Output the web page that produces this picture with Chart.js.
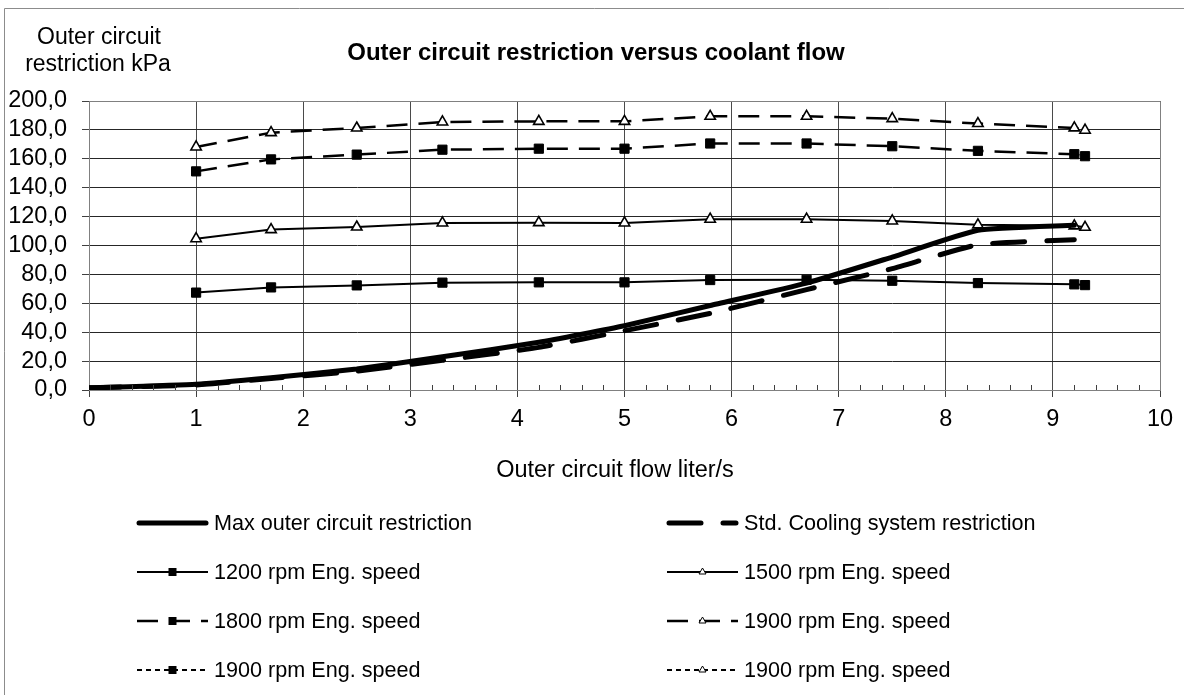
<!DOCTYPE html>
<html>
<head>
<meta charset="utf-8">
<script src="https://cdn.jsdelivr.net/npm/chart.js@4/dist/chart.umd.min.js"></script>
<style>
  html, body { margin: 0; padding: 0; background: #fff; }
  canvas { display: block; }
</style>
</head>
<body>
<canvas id="c" width="1184" height="695"></canvas>
<script>
// ---- data ----
const chartTitle = 'Outer circuit restriction versus coolant flow';
const yTitleLines = ['Outer circuit', 'restriction kPa'];
const xTitle = 'Outer circuit flow liter/s';

const curveFlow = [0, 1, 1.7, 2.5, 3.3, 4.2, 5, 5.8, 6.7, 7.5, 8.3, 9.2];
const maxRestriction = [1.5, 4, 8.5, 14.5, 23, 33, 44.5, 58.5, 74, 92, 110.5, 114];
const stdRestriction = [1.5, 3.5, 8, 13, 20.5, 29.5, 41, 53, 69.5, 84, 100.5, 104];

const rpmFlow = [1, 1.7, 2.5, 3.3, 4.2, 5, 5.8, 6.7, 7.5, 8.3, 9.2, 9.3];
const rpm1200 = [67.4, 71, 72.4, 74.3, 74.5, 74.5, 76.1, 76.3, 75.6, 74, 73.1, 72.6];
const rpm1500 = [104.7, 111, 112.8, 115.6, 115.8, 115.6, 118.2, 118.2, 117, 114.3, 113.6, 112.6];
const rpm1800 = [151.3, 159.6, 162.9, 166.3, 167, 167, 170.6, 170.6, 168.7, 165.5, 163.2, 161.8];
const rpm1900 = [168.2, 178.1, 181.3, 185.5, 185.9, 185.9, 189.4, 189.4, 187.8, 184.4, 181.4, 179.8];
const rpm1900sqShort = [];
const rpm1900triShort = [];

const seriesLabels = [
  'Max outer circuit restriction',
  'Std. Cooling system restriction',
  '1200 rpm Eng. speed',
  '1500 rpm Eng. speed',
  '1800 rpm Eng. speed',
  '1900 rpm Eng. speed',
  '1900 rpm Eng. speed',
  '1900 rpm Eng. speed'
];

const xMin = 0, xMax = 10, xStep = 1;
const yMin = 0, yMax = 200, yStep = 20;

function pts(xs, ys) { return ys.map((y, i) => ({ x: xs[i], y: y })); }

const FONT = '"Liberation Sans", Arial, sans-serif';

const datasets = [
  { label: seriesLabels[0], data: pts(curveFlow, maxRestriction), borderColor: '#000', borderWidth: 5,
    pointRadius: 0, tension: 0.15, borderCapStyle: 'round', borderJoinStyle: 'round' },
  { label: seriesLabels[1], data: pts(curveFlow, stdRestriction), borderColor: '#000', borderWidth: 5,
    borderDash: [32, 22], borderCapStyle: 'round', pointRadius: 0, tension: 0.15 },
  { label: seriesLabels[2], data: pts(rpmFlow, rpm1200), borderColor: '#000', borderWidth: 2,
    pointStyle: 'rect', pointRadius: 6.5, pointBackgroundColor: '#000', pointBorderColor: '#000', pointBorderWidth: 1 },
  { label: seriesLabels[3], data: pts(rpmFlow, rpm1500), borderColor: '#000', borderWidth: 2,
    pointStyle: 'triangle', pointRadius: 6, pointBackgroundColor: '#fff', pointBorderColor: '#000', pointBorderWidth: 1.6 },
  { label: seriesLabels[4], data: pts(rpmFlow, rpm1800), borderColor: '#000', borderWidth: 2.5, borderDash: [21, 11],
    pointStyle: 'rect', pointRadius: 6.5, pointBackgroundColor: '#000', pointBorderColor: '#000', pointBorderWidth: 1 },
  { label: seriesLabels[5], data: pts(rpmFlow, rpm1900), borderColor: '#000', borderWidth: 2.5, borderDash: [21, 11],
    pointStyle: 'triangle', pointRadius: 6, pointBackgroundColor: '#fff', pointBorderColor: '#000', pointBorderWidth: 1.6 },
  { label: seriesLabels[6], data: pts(rpmFlow, rpm1900sqShort), borderColor: '#000', borderWidth: 2, borderDash: [5, 4],
    pointStyle: 'rect', pointRadius: 6.5, pointBackgroundColor: '#000', pointBorderColor: '#000', pointBorderWidth: 1 },
  { label: seriesLabels[7], data: pts(rpmFlow, rpm1900triShort), borderColor: '#000', borderWidth: 2, borderDash: [5, 4],
    pointStyle: 'triangle', pointRadius: 6, pointBackgroundColor: '#fff', pointBorderColor: '#000', pointBorderWidth: 1.6 }
];

const decor = {
  id: 'decor',
  beforeDraw(chart) {
    const ctx = chart.ctx;
    ctx.save();
    ctx.fillStyle = '#fff';
    ctx.fillRect(0, 0, chart.width, chart.height);
    ctx.strokeStyle = '#8c8c8c';
    ctx.lineWidth = 1;
    ctx.beginPath();
    ctx.moveTo(4.5, chart.height);
    ctx.lineTo(4.5, 8.5);
    ctx.lineTo(chart.width, 8.5);
    ctx.stroke();
    ctx.restore();
  },
  afterDraw(chart) {
    const ctx = chart.ctx;
    const a = chart.chartArea;
    const xs = chart.scales.x;
    ctx.save();
    ctx.strokeStyle = '#808080';
    ctx.lineWidth = 1;
    ctx.beginPath();
    ctx.moveTo(Math.round(a.left) + 0.5, Math.round(a.top) + 0.5);
    ctx.lineTo(Math.round(a.right) + 0.5, Math.round(a.top) + 0.5);
    ctx.lineTo(Math.round(a.right) + 0.5, Math.round(a.bottom) + 0.5);
    ctx.stroke();
    ctx.strokeStyle = '#404040';
    ctx.beginPath();
    for (let i = 1; i < (xMax - xMin) * 5; i++) {
      if (i % 5 === 0) continue;
      const px = Math.round(xs.getPixelForValue(xMin + i / 5)) + 0.5;
      ctx.moveTo(px, a.bottom);
      ctx.lineTo(px, a.bottom - 5);
    }
    ctx.stroke();

    ctx.fillStyle = '#000';
    ctx.textAlign = 'center';
    ctx.textBaseline = 'alphabetic';
    ctx.font = 'bold 24px ' + FONT;
    ctx.fillText(chartTitle, 596, 60);
    ctx.font = '23px ' + FONT;
    ctx.fillText(yTitleLines[0], 99, 44);
    ctx.fillText(yTitleLines[1], 98, 71);
    ctx.font = '23.5px ' + FONT;
    ctx.fillText(xTitle, 615, 477);

    chart.data.datasets.forEach((ds, i) => {
      const col = i % 2, row = Math.floor(i / 2);
      const x0 = col === 0 ? 137 : 667;
      const x1 = x0 + 71;
      const y = 523 + row * 49;
      ctx.save();
      ctx.strokeStyle = ds.borderColor;
      ctx.lineWidth = ds.borderWidth;
      ctx.lineCap = ds.borderCapStyle === 'round' ? 'round' : 'butt';
      ctx.setLineDash(ds.borderDash || []);
      ctx.beginPath();
      ctx.moveTo(x0 + (ctx.lineCap === 'round' ? 2 : 0), y);
      ctx.lineTo(x1 - (ctx.lineCap === 'round' ? 2 : 0), y);
      ctx.stroke();
      ctx.setLineDash([]);
      const mx = (x0 + x1) / 2;
      if (ds.pointRadius > 0) {
        if (ds.pointStyle === 'rect') {
          ctx.fillStyle = '#000';
          ctx.fillRect(mx - 4, y - 4, 8, 8);
        } else if (ds.pointStyle === 'triangle') {
          ctx.fillStyle = '#fff';
          ctx.strokeStyle = '#000';
          ctx.lineWidth = 1;
          ctx.beginPath();
          ctx.moveTo(mx, y - 4);
          ctx.lineTo(mx + 3.5, y + 2);
          ctx.lineTo(mx - 3.5, y + 2);
          ctx.closePath();
          ctx.fill();
          ctx.stroke();
        }
      }
      ctx.restore();
      ctx.fillStyle = '#000';
      ctx.font = '21.6px ' + FONT;
      ctx.textAlign = 'left';
      ctx.textBaseline = 'middle';
      ctx.fillText(ds.label, x1 + 6, y + 1);
    });
    ctx.restore();
  }
};

new Chart(document.getElementById('c'), {
  type: 'line',
  data: { datasets },
  options: {
    responsive: false,
    animation: false,
    layout: { padding: { left: 0, top: 101, right: 24, bottom: 265 } },
    plugins: { legend: { display: false }, title: { display: false }, tooltip: { enabled: false } },
    scales: {
      x: {
        type: 'linear', min: xMin, max: xMax,
        ticks: { stepSize: xStep, autoSkip: false, maxRotation: 0, color: '#000', font: { family: FONT, size: 23.5 }, padding: 8,
                 callback: v => String(v) },
        grid: { color: '#4a4a4a', lineWidth: 1, tickLength: 7, tickColor: '#404040' },
        border: { color: '#808080', width: 1 },
        afterFit: s => { s.height = 40; }
      },
      y: {
        type: 'linear', min: yMin, max: yMax,
        ticks: { stepSize: yStep, autoSkip: false, color: '#000', font: { family: FONT, size: 23.5 }, padding: 15,
                 callback: v => v.toFixed(1).replace('.', ',') },
        grid: { color: '#262626', lineWidth: 1, tickLength: 7, tickColor: '#404040' },
        border: { color: '#808080', width: 1 },
        afterFit: s => { s.width = 89; }
      }
    }
  },
  plugins: [decor]
});
</script>
</body>
</html>
